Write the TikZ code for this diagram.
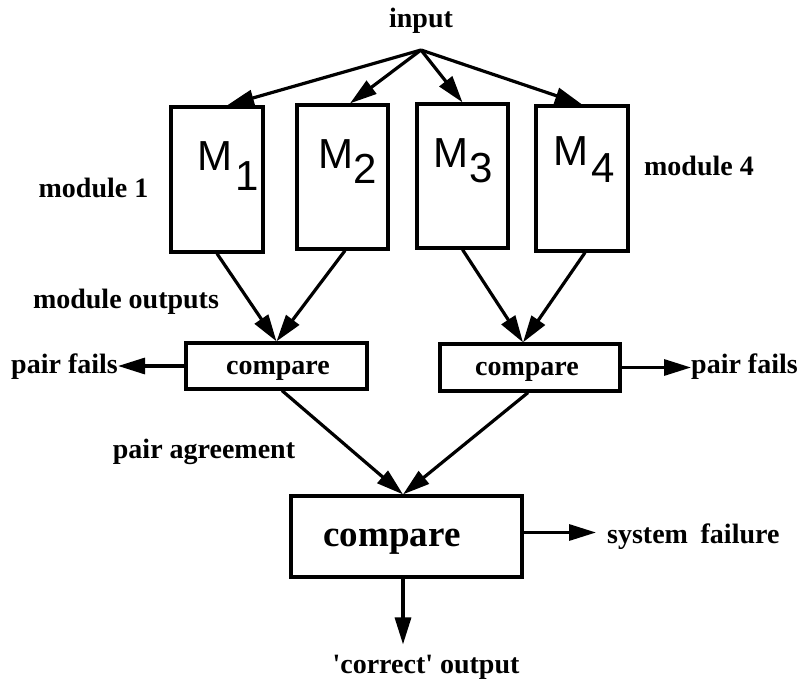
\documentclass[tikz,border=0pt]{standalone}
\usepackage{fontspec}
\setmainfont{Liberation Serif}
\newfontfamily\modfont{Liberation Sans}
\usetikzlibrary{arrows.meta,calc}

\begin{document}
\begin{tikzpicture}[x=1pt,y=-1pt,
  box/.style={draw,line width=3.2pt,inner sep=0pt},
  lbl/.style={font=\fontsize{28}{30}\selectfont\bfseries,inner sep=0pt,anchor=base},
  biglbl/.style={font=\fontsize{37}{39}\selectfont\bfseries,inner sep=0pt,anchor=base},
  mname/.style={font=\fontsize{42}{44}\selectfont\modfont,inner sep=0pt,anchor=base west},
  ar/.style={line width=3.2pt,-{Triangle[length=27pt,width=16pt]}}]
\useasboundingbox (0,0) rectangle (800,684);

% the four modules
\node[box,minimum width=92pt,minimum height=145pt] (m1) at (217,179.5) {};
\node[box,minimum width=91pt,minimum height=144pt] (m2) at (342.5,177) {};
\node[box,minimum width=91pt,minimum height=144pt] (m3) at (462.5,176) {};
\node[box,minimum width=92pt,minimum height=145pt] (m4) at (582,178.5) {};

\node[mname] (m1t) at (197,171) {M\hspace{3pt}\raisebox{-20pt}{1}};
\node[mname] (m2t) at (318,169) {M\hspace{0.5pt}\raisebox{-15pt}{2}};
\node[mname] (m3t) at (433,168) {M\hspace{1.5pt}\raisebox{-15pt}{3}};
\node[mname] (m4t) at (553,166) {M\hspace{3pt}\raisebox{-17pt}{4}};

% pairwise comparators
\node[box,minimum width=181pt,minimum height=46pt] (cmp1) at (276.5,366) {};
\node[lbl] (cmp1t) at (278,374) {compare};
\node[box,minimum width=180pt,minimum height=47pt] (cmp2) at (530,367.5) {};
\node[lbl] (cmp2t) at (527,375) {compare};

% final comparator
\node[box,minimum width=231pt,minimum height=81pt] (cmp3) at (406.5,536.5) {};
\node[biglbl] (cmp3t) at (392,546) {compare};

% labels
\node[lbl] (inp) at (421,28) {input};
\node[lbl] (mod1) at (93.5,198) {module 1};
\node[lbl] (mod4) at (699,176) {module 4};
\node[lbl] (mout) at (126,309) {module outputs};
\node[lbl] (pagr) at (204,458) {pair agreement};
\node[lbl,anchor=base east] (pfl) at (118,373) {pair fails};
\node[lbl,anchor=base west] (pfr) at (691,373) {pair fails};
\node[lbl,anchor=base west] (sysf) at (607,543) {system\hspace{0.45em}failure};
\node[lbl] (cout) at (426,673) {\textquotesingle correct\textquotesingle{} output};

% input fan-out
\coordinate (fan) at (421,50);
\draw[ar] (fan) -- ([xshift=10pt]m1.north);
\draw[ar] (fan) -- ([xshift=7.5pt]m2.north);
\draw[ar] (fan) -- (m3.north);
\draw[ar] (fan) -- (m4.north);

% module outputs into the pair comparators
\draw[ar] (m1.south) -- (cmp1.north);
\draw[ar] ([xshift=2.5pt]m2.south) -- (cmp1.north);
\draw[ar] (m3.south) -- ([xshift=-7pt]cmp2.north);
\draw[ar] ([xshift=3pt]m4.south) -- ([xshift=-7pt]cmp2.north);

% pair failures
\draw[ar] (cmp1.west) -- (cmp1.west -| pfl.east);
\draw[ar] (cmp2.east) -- (cmp2.east -| pfr.west);

% pair agreement into the final comparator
\draw[ar] ([xshift=5.5pt]cmp1.south) -- ([xshift=-3.5pt]cmp3.north);
\draw[ar] ([xshift=-2pt]cmp2.south) -- ([xshift=-3.5pt]cmp3.north);

% final outputs
\draw[ar,shorten >=11pt] ([yshift=4pt]cmp3.east) -- ([yshift=4pt]cmp3.east -| sysf.west);
\draw[ar,shorten >=10pt] ([xshift=-3.5pt]cmp3.south) -- ([xshift=-3.5pt]cmp3.south |- cout.north);
\end{tikzpicture}
\end{document}
